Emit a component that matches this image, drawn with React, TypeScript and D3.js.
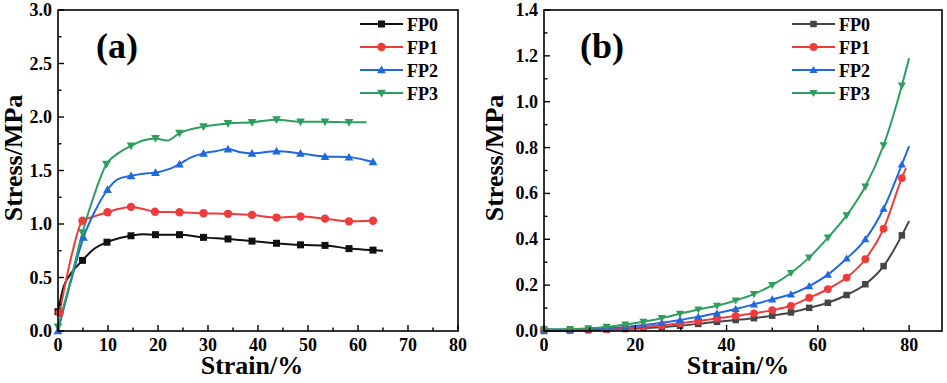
import React from "react";
import * as d3 from "d3";

type P = [number, number];

const SERIES_NAMES = ["FP0", "FP1", "FP2", "FP3"];
const COLORS_A = ["#111111", "#EE3B3B", "#1F68E2", "#2E9E5E"];
const COLORS_B = ["#454545", "#EE3B3B", "#1F68E2", "#2E9E5E"];

// Panel (a): marker points and additional curve points (strain %, stress MPa)
const fp0AMarkers: P[] = [[0, 0.18], [4.9, 0.66], [9.8, 0.83], [14.6, 0.89], [19.5, 0.9], [24.3, 0.9], [29.1, 0.875], [34, 0.86], [38.8, 0.84], [43.7, 0.82], [48.5, 0.805], [53.4, 0.8], [58.2, 0.77], [63, 0.756]];
const fp0AExtra: P[] = [[1.1, 0.41], [2.8, 0.55], [7, 0.76], [12, 0.865], [17, 0.905], [65, 0.75]];
const fp1AMarkers: P[] = [[0.3, 0.17], [4.9, 1.03], [9.9, 1.11], [14.6, 1.16], [19.4, 1.115], [24.3, 1.11], [29.1, 1.1], [34, 1.095], [38.8, 1.085], [43.7, 1.06], [48.5, 1.07], [53.4, 1.05], [58.2, 1.025], [63, 1.03]];
const fp1AExtra: P[] = [[1.5, 0.45], [3, 0.76], [7.2, 1.07], [12, 1.14], [17, 1.14]];
const fp2AMarkers: P[] = [[0, 0], [5.1, 0.875], [9.9, 1.32], [14.6, 1.45], [19.5, 1.48], [24.3, 1.56], [29.1, 1.66], [34, 1.7], [38.8, 1.66], [43.7, 1.68], [48.5, 1.66], [53.4, 1.63], [58.2, 1.625], [63, 1.58]];
const fp2AExtra: P[] = [[2.5, 0.45], [7.5, 1.13], [12, 1.42], [17, 1.47], [22, 1.51], [26.5, 1.62], [31.5, 1.68], [36.5, 1.67], [63.5, 1.575]];
const fp3AMarkers: P[] = [[0, 0.04], [4.9, 0.92], [9.7, 1.56], [14.6, 1.73], [19.5, 1.8], [24.3, 1.85], [29.1, 1.91], [34, 1.94], [38.8, 1.95], [43.7, 1.975], [48.5, 1.955], [53.4, 1.955], [58.2, 1.95]];
const fp3AExtra: P[] = [[2.5, 0.47], [7.3, 1.28], [12, 1.66], [17, 1.78], [21.8, 1.78], [61.7, 1.95]];

// Panel (b)
const strainB = [0, 5.7, 9.7, 13.7, 17.8, 21.8, 25.8, 29.8, 33.8, 37.9, 42, 46, 50, 54.1, 58.1, 62.2, 66.3, 70.4, 74.4, 78.4];
const fp0B = [0.0, 0.002, 0.004, 0.006, 0.009, 0.012, 0.017, 0.023, 0.031, 0.04, 0.048, 0.056, 0.067, 0.081, 0.101, 0.123, 0.157, 0.204, 0.283, 0.417];
const fp1B = [0.005, 0.003, 0.005, 0.008, 0.012, 0.018, 0.025, 0.034, 0.044, 0.055, 0.066, 0.077, 0.091, 0.11, 0.145, 0.183, 0.233, 0.313, 0.446, 0.667];
const fp2B = [0.006, 0.006, 0.008, 0.012, 0.018, 0.026, 0.036, 0.048, 0.062, 0.077, 0.096, 0.116, 0.138, 0.16, 0.196, 0.246, 0.316, 0.4, 0.533, 0.726];
const fp3B = [0.007, 0.008, 0.012, 0.018, 0.028, 0.04, 0.056, 0.075, 0.094, 0.11, 0.133, 0.161, 0.2, 0.253, 0.32, 0.407, 0.504, 0.63, 0.81, 1.07];
const endB: P[] = [[80, 0.48], [79.3, 0.71], [80, 0.806], [80, 1.19]];

const xTicksA = [0, 10, 20, 30, 40, 50, 60, 70, 80];
const xMinorA = [5, 15, 25, 35, 45, 55, 65, 75];
const yTicksA = [0, 0.5, 1, 1.5, 2, 2.5, 3];
const yMinorA = [0.25, 0.75, 1.25, 1.75, 2.25, 2.75];
const xTicksB = [0, 20, 40, 60, 80];
const xMinorB = [10, 30, 50, 70];
const yTicksB = [0, 0.2, 0.4, 0.6, 0.8, 1.0, 1.2, 1.4];
const yMinorB = [0.1, 0.3, 0.5, 0.7, 0.9, 1.1, 1.3];

const FONT = "Liberation Serif";
const fmt = d3.format(".1f");

type Series = { name: string; color: string; markers: P[]; line: P[] };

function merge(a: P[], b: P[]): P[] {
  return [...a, ...b].sort((p, q) => p[0] - q[0]);
}

const seriesA: Series[] = [
  { name: SERIES_NAMES[0], color: COLORS_A[0], markers: fp0AMarkers, line: merge(fp0AMarkers, fp0AExtra) },
  { name: SERIES_NAMES[1], color: COLORS_A[1], markers: fp1AMarkers, line: merge(fp1AMarkers, fp1AExtra) },
  { name: SERIES_NAMES[2], color: COLORS_A[2], markers: fp2AMarkers, line: merge(fp2AMarkers, fp2AExtra) },
  { name: SERIES_NAMES[3], color: COLORS_A[3], markers: fp3AMarkers, line: merge(fp3AMarkers, fp3AExtra) },
];

const seriesB: Series[] = [fp0B, fp1B, fp2B, fp3B].map((vals, i) => {
  const markers: P[] = strainB.map((s, j) => [s, vals[j]] as P);
  return { name: SERIES_NAMES[i], color: COLORS_B[i], markers, line: [...markers, endB[i]] };
});

function Marker({ kind, x, y, color, s }: { kind: number; x: number; y: number; color: string; s: number }) {
  if (kind === 0) return <rect x={x - s / 2} y={y - s / 2} width={s} height={s} fill={color} />;
  if (kind === 1) return <circle cx={x} cy={y} r={s * 0.6} fill={color} />;
  const h = s * 1.05;
  const w = s * 1.25;
  if (kind === 2)
    return <path d={`M${x},${y - h * 0.6} L${x + w / 2},${y + h * 0.45} L${x - w / 2},${y + h * 0.45} Z`} fill={color} />;
  return <path d={`M${x},${y + h * 0.6} L${x + w / 2},${y - h * 0.45} L${x - w / 2},${y - h * 0.45} Z`} fill={color} />;
}

type PanelProps = {
  x0: number; x1: number; y0: number; y1: number;
  xDomain: [number, number]; yDomain: [number, number];
  xTicks: number[]; xMinor: number[]; yTicks: number[]; yMinor: number[];
  series: Series[]; label: string; labelX: number;
  legendX: number; yTitleX: number; yTitleY: number; xTitleX: number; ms: number;
};

const txt = (size: number): React.CSSProperties => ({ fontFamily: FONT, fontWeight: "bold", fontSize: size });

function Panel(p: PanelProps) {
  const x = d3.scaleLinear().domain(p.xDomain).range([p.x0, p.x1]);
  const y = d3.scaleLinear().domain(p.yDomain).range([p.y1, p.y0]);
  const line = d3.line<P>().x((d) => x(d[0])).y((d) => y(d[1])).curve(d3.curveMonotoneX);
  const legendRows = [24, 47, 70, 93];
  return (
    <g>
      {p.series.map((s, i) => (
        <path key={"l" + i} d={line(s.line) || ""} fill="none" stroke={s.color} strokeWidth={2} />
      ))}
      {p.series.map((s, i) => (
        <g key={"m" + i}>
          {s.markers.map((d, j) => (
            <Marker key={j} kind={i} x={x(d[0])} y={y(d[1])} color={s.color} s={p.ms} />
          ))}
        </g>
      ))}
      <rect x={p.x0} y={p.y0} width={p.x1 - p.x0} height={p.y1 - p.y0} fill="none" stroke="#000" strokeWidth={1.6} />
      {p.xTicks.map((t) => (
        <g key={"xt" + t}>
          <line x1={x(t)} x2={x(t)} y1={p.y1} y2={p.y1 - 6} stroke="#000" strokeWidth={1.4} />
          <text x={x(t)} y={351} textAnchor="middle" style={txt(18)}>{t}</text>
        </g>
      ))}
      {p.xMinor.map((t) => (
        <line key={"xm" + t} x1={x(t)} x2={x(t)} y1={p.y1} y2={p.y1 - 3.5} stroke="#000" strokeWidth={1.4} />
      ))}
      {p.yTicks.map((t) => (
        <g key={"yt" + t}>
          <line x1={p.x0} x2={p.x0 + 6} y1={y(t)} y2={y(t)} stroke="#000" strokeWidth={1.4} />
          <text x={p.x0 - 6} y={y(t) + 6} textAnchor="end" style={txt(18)}>{fmt(t)}</text>
        </g>
      ))}
      {p.yMinor.map((t) => (
        <line key={"ym" + t} x1={p.x0} x2={p.x0 + 3.5} y1={y(t)} y2={y(t)} stroke="#000" strokeWidth={1.4} />
      ))}
      <text x={p.xTitleX} y={374} textAnchor="middle" style={txt(26)}>Strain/%</text>
      <text transform={`translate(${p.yTitleX},${p.yTitleY}) rotate(-90)`} textAnchor="middle" style={txt(26)}>Stress/MPa</text>
      <text x={p.labelX} y={58} style={txt(36)}>{p.label}</text>
      {p.series.map((s, i) => (
        <g key={"lg" + i}>
          <line x1={p.legendX} x2={p.legendX + 43} y1={legendRows[i]} y2={legendRows[i]} stroke={s.color} strokeWidth={2} />
          <Marker kind={i} x={p.legendX + 21.5} y={legendRows[i]} color={s.color} s={p.ms} />
          <text x={p.legendX + 47} y={legendRows[i] + 6.5} style={txt(18)}>{s.name}</text>
        </g>
      ))}
    </g>
  );
}

export default function App() {
  return (
    <svg width={947} height={383} style={{ position: "absolute", left: 0, top: 0, background: "#fff" }}>
      <rect width={947} height={383} fill="#fff" />
      <Panel x0={58} x1={458} y0={10} y1={331} xDomain={[0, 80]} yDomain={[0, 3]}
        xTicks={xTicksA} xMinor={xMinorA} yTicks={yTicksA} yMinor={yMinorA}
        series={seriesA} label="(a)" labelX={96} legendX={360} yTitleX={22} yTitleY={158} xTitleX={252} ms={7} />
      <Panel x0={544} x1={942} y0={10} y1={331} xDomain={[0, 87.2]} yDomain={[0, 1.4]}
        xTicks={xTicksB} xMinor={xMinorB} yTicks={yTicksB} yMinor={yMinorB}
        series={seriesB} label="(b)" labelX={580} legendX={792} yTitleX={503} yTitleY={158} xTitleX={738} ms={6.5} />
    </svg>
  );
}
